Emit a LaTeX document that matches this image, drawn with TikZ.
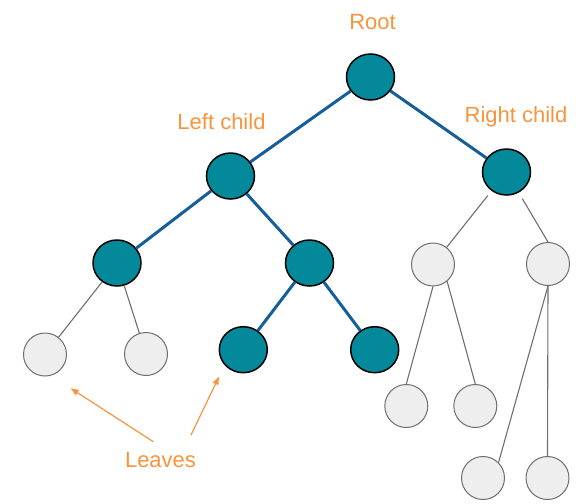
\documentclass[tikz,border=0pt]{standalone}
\usepackage{fontspec}
\setmainfont{Liberation Sans}
\usetikzlibrary{shapes.geometric,arrows.meta}
\definecolor{tealfill}{RGB}{4,137,155}
\definecolor{edgeblue}{RGB}{22,94,154}
\definecolor{grayfill}{RGB}{238,238,238}
\definecolor{grayline}{RGB}{110,110,110}
\definecolor{lbl}{RGB}{247,148,61}
\tikzset{
  tnode/.style={ellipse, draw=black, line width=1.5pt, fill=tealfill, minimum width=48pt, minimum height=46pt, inner sep=0pt},
  gnode/.style={circle, draw=grayline, line width=1pt, fill=grayfill, minimum size=43pt, inner sep=0pt},
  tedge/.style={draw=edgeblue, line width=3pt},
  gedge/.style={draw=grayline, line width=1.1pt},
  lbltext/.style={text=lbl, font=\fontsize{22pt}{24pt}\selectfont, anchor=base, inner sep=0pt},
  larrow/.style={draw=lbl, line width=1.2pt, -{Triangle[length=8pt,width=6pt]}}
}
\begin{document}
\begin{tikzpicture}[x=1pt,y=-1pt]
\useasboundingbox (0,0) rectangle (582,504);
% nodes
\node[gnode] (LLL) at (45,354.5) {};
\node[gnode] (LLR) at (146,354) {};
\node[gnode] (RL) at (433,264.5) {};
\node[gnode] (RR) at (548,264) {};
\node[gnode] (RLL) at (406.3,406) {};
\node[gnode] (RLR) at (475.3,406) {};
\node[gnode] (RRL) at (483,478) {};
\node[gnode] (RRR) at (547.5,478) {};
\node[tnode] (root) at (370.5,77) {};
\node[tnode] (LC) at (230.5,176) {};
\node[tnode] (RC) at (506.5,172) {};
\node[tnode] (LL) at (117,263) {};
\node[tnode] (LR) at (309.5,263) {};
\node[tnode] (LRL) at (243.3,349.7) {};
\node[tnode] (LRR) at (374.7,349.7) {};
% edges
\path[tedge] (root) -- (LC);
\path[tedge] (root) -- (RC);
\path[tedge] (LC) -- (LL);
\path[tedge] (LC) -- (LR);
\path[tedge] (LR) -- (LRL);
\path[tedge] (LR) -- (LRR);
\path[gedge] (LL) -- (LLL);
\path[gedge] (LL) -- (LLR);
\path[gedge, shorten <=6pt] (RC) -- (RL);
\path[gedge, shorten <=7pt] (RC) -- (RR.north);
\path[gedge] (RL.south) -- (RLL.north);
\path[gedge] (RL.-50) -- (RLR.north);
\path[gedge] (RR.south) -- (RRL.45);
\path[gedge] (RR.south) -- (RRR.north);
% labels
\node[lbltext] (troot) at (372.5,29.3) {Root};
\node[lbltext] (tlc) at (221.5,129.3) {Left child};
\node[lbltext] (trc) at (516,122.7) {Right child};
\node[lbltext] (tleaves) at (160.5,467.3) {Leaves};
\coordinate (a1s) at (153.3,441.7);
\coordinate (a1e) at (70.7,388.3);
\coordinate (a2s) at (191,435);
\coordinate (a2e) at (219,376.7);
\draw[larrow] (a1s) -- (a1e);
\draw[larrow] (a2s) -- (a2e);
\end{tikzpicture}
\end{document}
